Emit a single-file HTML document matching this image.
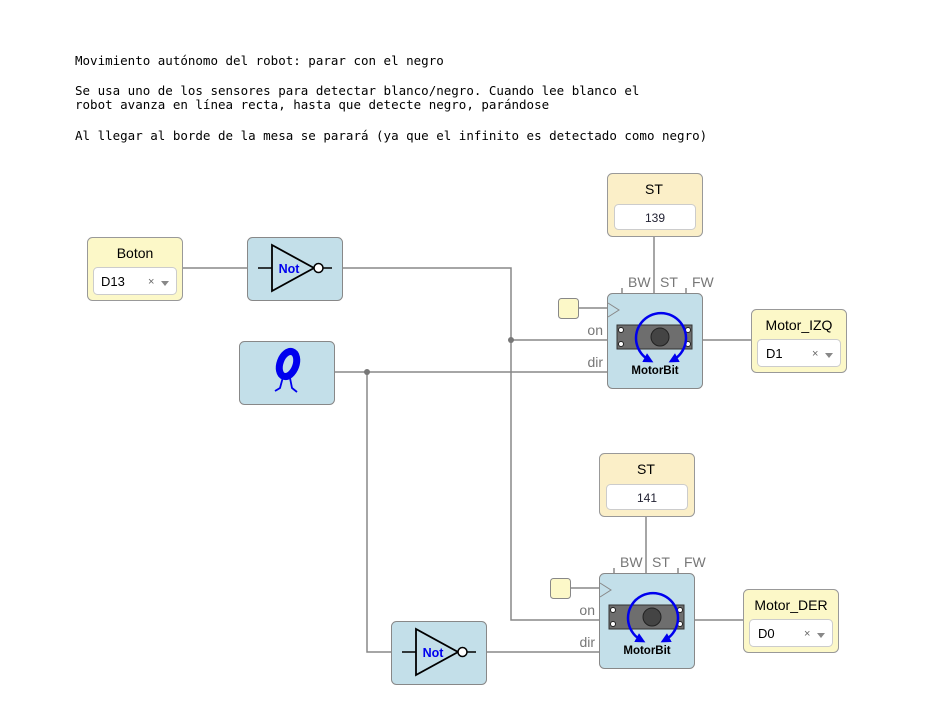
<!DOCTYPE html>
<html><head><meta charset="utf-8"><style>
body{margin:0;background:#fff;}
svg{display:block}
</style></head><body>
<svg width="946" height="724" viewBox="0 0 946 724" xmlns="http://www.w3.org/2000/svg">
<defs>
<marker id="ah" viewBox="0 0 10 10" refX="5" refY="5" markerWidth="4" markerHeight="4" orient="auto-start-reverse"><path d="M0,0 L10,5 L0,10 z" fill="#0000ee"/></marker>
<g id="motor">
 <rect x="0.5" y="0.5" width="95" height="95" rx="5" fill="#c3dfe9" stroke="#888"/>
 <path d="M1,10 L12,17 L1,24" fill="#c3dfe9" stroke="#888"/>
 <rect x="10" y="32" width="75" height="24" fill="#6e6e6e" stroke="#333"/>
 <circle cx="53" cy="44" r="9" fill="#444" stroke="#222"/>
 <circle cx="14" cy="37" r="2.5" fill="#fff" stroke="#222"/>
 <circle cx="14" cy="51" r="2.5" fill="#fff" stroke="#222"/>
 <circle cx="81" cy="37" r="2.5" fill="#fff" stroke="#222"/>
 <circle cx="81" cy="51" r="2.5" fill="#fff" stroke="#222"/>
 <path d="M42,67 A25,25 0 1 1 66,67" fill="none" stroke="#0000ee" stroke-width="2.5" marker-start="url(#ah)" marker-end="url(#ah)"/>
 <text x="48" y="81" text-anchor="middle" font-family="Liberation Sans, sans-serif" font-weight="bold" font-size="11.5">MotorBit</text>
</g>
<g id="not">
 <rect x="0.5" y="0.5" width="95" height="63" rx="5" fill="#c3dfe9" stroke="#888"/>
 <line x1="11" y1="31" x2="25" y2="31" stroke="#000" stroke-width="1.5"/>
 <path d="M25,8 L25,54 L67,31 Z" fill="none" stroke="#000" stroke-width="1.8"/>
 <circle cx="71.5" cy="31" r="4.5" fill="#fff" stroke="#000" stroke-width="1.5"/>
 <line x1="76" y1="31" x2="85" y2="31" stroke="#000" stroke-width="1.5"/>
 <text x="42" y="36" text-anchor="middle" font-family="Liberation Sans, sans-serif" font-weight="bold" font-size="12.5" fill="#0000ee">Not</text>
</g>
</defs>

<g font-family="DejaVu Sans Mono, monospace" font-size="12.5" fill="#000">
<text x="75" y="65">Movimiento autónomo del robot: parar con el negro</text>
<text x="75" y="95">Se usa uno de los sensores para detectar blanco/negro. Cuando lee blanco el</text>
<text x="75" y="109">robot avanza en línea recta, hasta que detecte negro, parándose</text>
<text x="75" y="140">Al llegar al borde de la mesa se parará (ya que el infinito es detectado como negro)</text>
</g>

<g stroke="#888" stroke-width="1.5" fill="none">
<path d="M182,268 H247"/>
<path d="M342,268 H511 V620 H599"/>
<path d="M511,340 H607"/>
<path d="M334,372 H607"/>
<path d="M367,372 V652 H391"/>
<path d="M486,652 H599"/>
<path d="M654,236 V293"/>
<path d="M646,516 V573"/>
<path d="M578,308 H607"/>
<path d="M570,588 H599"/>
<path d="M702,340 H751"/>
<path d="M694,620 H743"/>
<path d="M622,288 V293 M686,288 V293 M614,568 V573 M678,568 V573"/>
</g>
<circle cx="511" cy="340" r="3" fill="#777"/>
<circle cx="367" cy="372" r="3" fill="#777"/>

<g font-family="Liberation Sans, sans-serif" font-size="14" fill="#777">
<text x="628" y="287">BW</text><text x="660" y="287">ST</text><text x="692" y="287">FW</text>
<text x="620" y="567">BW</text><text x="652" y="567">ST</text><text x="684" y="567">FW</text>
<text x="603" y="335" text-anchor="end">on</text><text x="603" y="367" text-anchor="end">dir</text>
<text x="595" y="615" text-anchor="end">on</text><text x="595" y="647" text-anchor="end">dir</text>
</g>

<rect x="87.5" y="237.5" width="95" height="63" rx="5" fill="#fcf8c8" stroke="#999"/>
<text x="135" y="258" text-anchor="middle" font-family="Liberation Sans, sans-serif" font-size="14">Boton</text>
<rect x="93.5" y="267.5" width="83" height="27" rx="4" fill="#fff" stroke="#ccc"/>
<text x="101" y="286" font-family="Liberation Sans, sans-serif" font-size="13">D13</text>
<text x="148" y="285" font-family="Liberation Sans, sans-serif" font-size="11" fill="#666">×</text>
<path d="M161,281 L169,281 L165,286 Z" fill="#888"/>

<use href="#not" x="247" y="237"/>
<use href="#not" x="391" y="621"/>

<rect x="239.5" y="341.5" width="95" height="63" rx="5" fill="#c3dfe9" stroke="#888"/>
<ellipse cx="288" cy="364" rx="8" ry="13" transform="rotate(20 288 364)" fill="none" stroke="#0000ee" stroke-width="7"/>
<path d="M283,377 L280,388 L275,391 M290,378 L292,388 L297,392" fill="none" stroke="#0000ee" stroke-width="1.8"/>

<rect x="607.5" y="173.5" width="95" height="63" rx="5" fill="#fbefc8" stroke="#999"/>
<text x="654" y="194" text-anchor="middle" font-family="Liberation Sans, sans-serif" font-size="14">ST</text>
<rect x="614.5" y="204.5" width="81" height="25" rx="4" fill="#fff" stroke="#ccc"/>
<text x="655" y="222" text-anchor="middle" font-family="Liberation Sans, sans-serif" font-size="12" fill="#223">139</text>

<rect x="599.5" y="453.5" width="95" height="63" rx="5" fill="#fbefc8" stroke="#999"/>
<text x="646" y="474" text-anchor="middle" font-family="Liberation Sans, sans-serif" font-size="14">ST</text>
<rect x="606.5" y="484.5" width="81" height="25" rx="4" fill="#fff" stroke="#ccc"/>
<text x="647" y="502" text-anchor="middle" font-family="Liberation Sans, sans-serif" font-size="12" fill="#223">141</text>

<rect x="558.5" y="298.5" width="20" height="20" rx="3" fill="#fcf8c8" stroke="#888"/>
<rect x="550.5" y="578.5" width="20" height="20" rx="3" fill="#fcf8c8" stroke="#888"/>

<use href="#motor" x="607" y="293"/>
<use href="#motor" x="599" y="573"/>

<rect x="751.5" y="309.5" width="95" height="63" rx="5" fill="#fcf8c8" stroke="#999"/>
<text x="799" y="330" text-anchor="middle" font-family="Liberation Sans, sans-serif" font-size="14">Motor_IZQ</text>
<rect x="757.5" y="339.5" width="83" height="27" rx="4" fill="#fff" stroke="#ccc"/>
<text x="766" y="358" font-family="Liberation Sans, sans-serif" font-size="13">D1</text>
<text x="812" y="357" font-family="Liberation Sans, sans-serif" font-size="11" fill="#666">×</text>
<path d="M825,353 L833,353 L829,358 Z" fill="#888"/>

<rect x="743.5" y="589.5" width="95" height="63" rx="5" fill="#fcf8c8" stroke="#999"/>
<text x="791" y="610" text-anchor="middle" font-family="Liberation Sans, sans-serif" font-size="14">Motor_DER</text>
<rect x="749.5" y="619.5" width="83" height="27" rx="4" fill="#fff" stroke="#ccc"/>
<text x="758" y="638" font-family="Liberation Sans, sans-serif" font-size="13">D0</text>
<text x="804" y="637" font-family="Liberation Sans, sans-serif" font-size="11" fill="#666">×</text>
<path d="M817,633 L825,633 L821,638 Z" fill="#888"/>
</svg>
</body></html>
